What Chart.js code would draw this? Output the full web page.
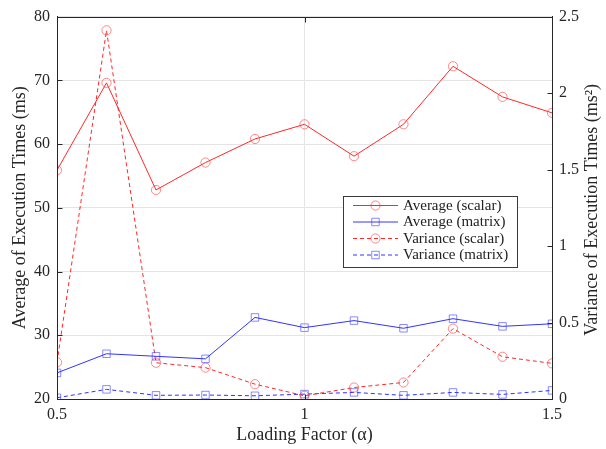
<!DOCTYPE html>
<html><head><meta charset="utf-8">
<script src="https://cdn.jsdelivr.net/npm/chart.js@4"></script>
<style>html,body{margin:0;padding:0;background:#fff;}</style>
</head><body>
<canvas id="c" width="606" height="449"></canvas>
<script>
const loadingFactors = [0.5,0.6,0.7,0.8,0.9,1.0,1.1,1.2,1.3,1.4,1.5];
const avgScalar = [55.9,69.6,52.8,57.1,60.8,63.1,58.1,63.1,72.2,67.4,64.9];
const avgMatrix = [24.1,27.1,26.7,26.3,32.8,31.2,32.3,31.1,32.6,31.4,31.8];
const varScalar = [0.24,2.41,0.237,0.205,0.097,0.021,0.075,0.108,0.46,0.276,0.233];
const varMatrix = [0.008,0.063,0.024,0.026,0.021,0.032,0.043,0.024,0.043,0.030,0.056];
const xTicks = [0.5,1,1.5];
const leftTicks = [20,30,40,50,60,70,80];
const rightTicks = [0,0.5,1,1.5,2,2.5];
const seriesLabels = ['Average (scalar)','Average (matrix)','Variance (scalar)','Variance (matrix)'];
const rightTitle = 'Variance of Execution Times (ms²)';

const RED = 'rgb(255,40,40)', REDM = 'rgba(255,60,60,0.6)';
const BLUE = 'rgb(50,50,255)', BLUEM = 'rgba(60,60,255,0.6)';
const FONT = '"Liberation Serif", "DejaVu Serif", serif';
const AXC = '#262626';

const pts = arr => arr.map((v,i)=>({x:loadingFactors[i], y:v}));

const styles = [
  {color:RED, mcolor:REDM, point:'circle', r:4.6, dash:[]},
  {color:BLUE, mcolor:BLUEM, point:'rect', r:5.3, dash:[]},
  {color:RED, mcolor:REDM, point:'circle', r:4.6, dash:[4,3]},
  {color:BLUE, mcolor:BLUEM, point:'rect', r:5.3, dash:[4,3]}
];
const seriesData = [avgScalar, avgMatrix, varScalar, varMatrix];
const axisIds = ['y','y','y2','y2'];

const datasets = seriesData.map((d,i)=>({
  label: seriesLabels[i],
  data: pts(d),
  yAxisID: axisIds[i],
  borderColor: styles[i].color,
  borderWidth: 1,
  borderDash: styles[i].dash,
  pointStyle: styles[i].point,
  pointRadius: styles[i].r,
  pointBorderColor: styles[i].mcolor,
  pointBackgroundColor: 'rgba(0,0,0,0)',
  pointBorderWidth: 1,
  tension: 0,
  fill: false
}));

const framePlugin = {
  id:'frame',
  afterDatasetsDraw(chart){
    const {ctx, chartArea:a, scales} = chart;
    ctx.save();
    ctx.strokeStyle = AXC; ctx.lineWidth = 1; ctx.setLineDash([]);
    const L=Math.round(a.left)+0.5, R=Math.round(a.right)+0.5, T=Math.round(a.top)+0.5, B=Math.round(a.bottom)+0.5;
    ctx.strokeRect(L, T, R-L, B-T);
    const tl = 5;
    ctx.beginPath();
    xTicks.forEach(v=>{ const px=Math.round(scales.x.getPixelForValue(v))+0.5;
      ctx.moveTo(px,B); ctx.lineTo(px,B-tl); ctx.moveTo(px,T); ctx.lineTo(px,T+tl); });
    leftTicks.forEach(v=>{ const py=Math.round(scales.y.getPixelForValue(v))+0.5;
      ctx.moveTo(L,py); ctx.lineTo(L+tl,py); });
    rightTicks.forEach(v=>{ const py=Math.round(scales.y2.getPixelForValue(v))+0.5;
      ctx.moveTo(R,py); ctx.lineTo(R-tl,py); });
    ctx.stroke();

    // right axis title (reads bottom-to-top like the left one)
    ctx.save();
    ctx.translate(592, (a.top + a.bottom)/2 + 2);
    ctx.rotate(-Math.PI/2);
    ctx.font = '18px ' + FONT;
    ctx.fillStyle = '#262626';
    ctx.textAlign = 'center';
    ctx.textBaseline = 'middle';
    ctx.fillText(rightTitle, 0, 0);
    ctx.restore();

    // legend
    const bx = 343.5, by = 196.5, bw = 174, bh = 71;
    ctx.fillStyle = '#fff';
    ctx.fillRect(bx, by, bw, bh);
    ctx.strokeStyle = '#3a3a3a';
    ctx.strokeRect(bx, by, bw, bh);
    ctx.font = '15px ' + FONT;
    ctx.textBaseline = 'middle';
    ctx.textAlign = 'left';
    const rows = [205.5, 222, 238.5, 255];
    seriesLabels.forEach((lab,i)=>{
      const st = styles[i], y = rows[i];
      ctx.strokeStyle = st.color; ctx.lineWidth = 1; ctx.setLineDash(st.dash);
      ctx.beginPath(); ctx.moveTo(353, y); ctx.lineTo(398, y); ctx.stroke();
      ctx.setLineDash([]);
      ctx.strokeStyle = st.mcolor;
      ctx.beginPath();
      if (st.point==='circle') ctx.arc(375.5, y, st.r, 0, Math.PI*2);
      else { const s = st.r*Math.SQRT1_2; ctx.rect(375.5-s, y-s, 2*s, 2*s); }
      ctx.stroke();
      ctx.fillStyle = '#222';
      ctx.fillText(lab, 403, y+0.5);
    });
    ctx.restore();
  }
};

new Chart(document.getElementById('c'), {
  type:'line',
  data:{datasets},
  plugins:[framePlugin],
  options:{
    responsive:false, animation:false, devicePixelRatio:1,
    layout:{padding:{top:13,left:0,right:0,bottom:0}},
    plugins:{legend:{display:false}, tooltip:{enabled:false}},
    scales:{
      x:{type:'linear', min:0.5, max:1.5,
        afterBuildTicks:s=>{s.ticks = xTicks.map(v=>({value:v}));},
        afterFit:s=>{s.height = 50;},
        grid:{color:'#e4e4e4', drawTicks:false},
        border:{color:AXC},
        ticks:{color:'#262626', font:{family:FONT, size:16}, padding:6, maxRotation:0,
          callback:v=>String(v)},
        title:{display:true, text:'Loading Factor (α)', color:'#262626',
          font:{family:FONT, size:18}, padding:{top:0,bottom:3}}
      },
      y:{type:'linear', position:'left', min:20, max:80,
        afterBuildTicks:s=>{s.ticks = leftTicks.map(v=>({value:v}));},
        afterFit:s=>{s.width = 57;},
        grid:{color:'#e4e4e4', drawTicks:false},
        border:{color:AXC},
        ticks:{color:'#262626', font:{family:FONT, size:16}, padding:7},
        title:{display:true, text:'Average of Execution Times (ms)', color:'#262626',
          font:{family:FONT, size:18}, padding:{top:9,bottom:0}}
      },
      y2:{type:'linear', position:'right', min:0, max:2.5,
        afterBuildTicks:s=>{s.ticks = rightTicks.map(v=>({value:v}));},
        afterFit:s=>{s.width = 54;},
        grid:{drawOnChartArea:false, drawTicks:false},
        border:{color:AXC},
        ticks:{color:'#262626', font:{family:FONT, size:16}, padding:7,
          callback:v=>String(v)},
        title:{display:false}
      }
    }
  }
});
</script>
</body></html>
